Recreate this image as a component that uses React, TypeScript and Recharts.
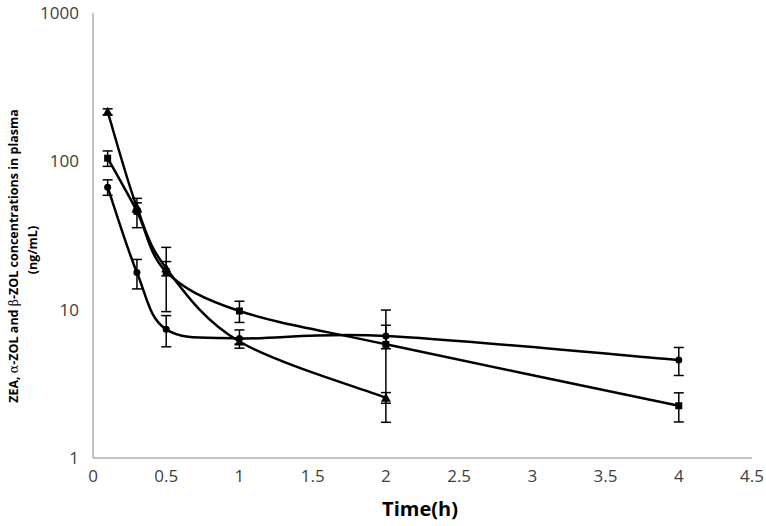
import { ErrorBar, Line, LineChart, XAxis, YAxis } from 'recharts'

// sampling times (h)
const times = [0.1, 0.3, 0.5, 1, 2, 4]

// triangle series
const zea = [216, 49, 19, 6.1, 2.55, null]
const zeaErr = [10, 3.5, 2.1, 0.25, 0.21, null]
// square series
const alphaZol = [105, 46, 18, 9.8, 5.84, 2.25]
const alphaZolErr = [12.5, 10.3, 8.3, 1.6, 4.1, 0.5]
// circle series
const betaZol = [67, 17.8, 7.37, 6.4, 6.65, 4.58]
const betaZolErr = [8, 4, 1.75, 0.9, 1.2, 0.98]

const xTicks = [0, 0.5, 1, 1.5, 2, 2.5, 3, 3.5, 4, 4.5]
const yTicks = [1, 10, 100, 1000]

const data = times.map((t, i) => ({
  t,
  zea: zea[i],
  zeaErr: zeaErr[i],
  alphaZol: alphaZol[i],
  alphaZolErr: alphaZolErr[i],
  betaZol: betaZol[i],
  betaZolErr: betaZolErr[i],
}))

// excel-like smoothed line (catmull-rom through the points)
const smooth = (context: any) => {
  let pts: number[][] = []
  return {
    areaStart() {},
    areaEnd() {},
    lineStart() {
      pts = []
    },
    lineEnd() {
      const n = pts.length
      if (!n) return
      context.moveTo(pts[0][0], pts[0][1])
      for (let i = 0; i < n - 1; i++) {
        const p0 = pts[Math.max(i - 1, 0)]
        const p1 = pts[i]
        const p2 = pts[i + 1]
        const p3 = pts[Math.min(i + 2, n - 1)]
        context.bezierCurveTo(
          p1[0] + (p2[0] - p0[0]) / 6,
          p1[1] + (p2[1] - p0[1]) / 6,
          p2[0] - (p3[0] - p1[0]) / 6,
          p2[1] - (p3[1] - p1[1]) / 6,
          p2[0],
          p2[1]
        )
      }
    },
    point(x: number, y: number) {
      pts.push([+x, +y])
    },
  }
}

const TriangleDot = (props: any) => {
  const { cx, cy, index } = props
  if (cx == null || cy == null) return <g key={`tri-${index}`} />
  return <path key={`tri-${index}`} d={`M${cx},${cy - 5}L${cx + 5},${cy + 4}L${cx - 5},${cy + 4}Z`} fill='#000' />
}

const SquareDot = (props: any) => {
  const { cx, cy, index } = props
  if (cx == null || cy == null) return <g key={`sq-${index}`} />
  return <rect key={`sq-${index}`} x={cx - 3.5} y={cy - 3.5} width={7} height={7} fill='#000' />
}

const CircleDot = (props: any) => {
  const { cx, cy, index } = props
  if (cx == null || cy == null) return <g key={`ci-${index}`} />
  return <circle key={`ci-${index}`} cx={cx} cy={cy} r={3.5} fill='#000' />
}

const font = '"Open Sans", sans-serif'

const YTitle = () => (
  <g fontFamily={font} fontWeight='bold' fontSize={12.5} fill='#000'>
    <text x={13} y={256} textAnchor='middle' dominantBaseline='central' transform='rotate(-90 13 256)'>
      ZEA, <tspan fontFamily='"DejaVu Serif", serif' fontWeight='normal'>α</tspan>-ZOL and{' '}
      <tspan fontFamily='"DejaVu Serif", serif' fontWeight='normal'>β</tspan>-ZOL concentrations in plasma
    </text>
    <text x={32} y={250} textAnchor='middle' dominantBaseline='central' transform='rotate(-90 32 250)'>
      (ng/mL)
    </text>
  </g>
)

const XTitle = () => (
  <text x={420} y={516} textAnchor='middle' fontFamily={font} fontWeight='bold' fontSize={20} fill='#000'>
    Time(h)
  </text>
)

export default function App() {
  return (
    <div style={{ position: 'absolute', left: 0, top: 0, background: '#fff' }}>
      <LineChart width={766} height={526} data={data} margin={{ top: 13, right: 14, bottom: 0, left: 0 }}>
        <XAxis
          dataKey='t'
          type='number'
          domain={[0, 4.5]}
          ticks={xTicks}
          height={68}
          stroke='#898989'
          tickLine={false}
          tickMargin={6}
          tick={{ fill: '#404040', fontSize: 17, fontFamily: font }}
          label={{ content: () => <XTitle /> }}
        />
        <YAxis
          scale='log'
          domain={[1, 1000]}
          ticks={yTicks}
          allowDataOverflow
          width={93}
          stroke='#898989'
          tickLine={false}
          tickMargin={8}
          tick={{ fill: '#404040', fontSize: 17, fontFamily: font }}
          label={{ content: () => <YTitle /> }}
        />
        <Line
          dataKey='zea'
          type={smooth as any}
          stroke='#000'
          strokeWidth={2.5}
          dot={TriangleDot}
          activeDot={false}
          isAnimationActive={false}
        >
          <ErrorBar dataKey='zeaErr' direction='y' width={5} stroke='#000' strokeWidth={1.5} />
        </Line>
        <Line
          dataKey='alphaZol'
          type={smooth as any}
          stroke='#000'
          strokeWidth={2.5}
          dot={SquareDot}
          activeDot={false}
          isAnimationActive={false}
        >
          <ErrorBar dataKey='alphaZolErr' direction='y' width={5} stroke='#000' strokeWidth={1.5} />
        </Line>
        <Line
          dataKey='betaZol'
          type={smooth as any}
          stroke='#000'
          strokeWidth={2.5}
          dot={CircleDot}
          activeDot={false}
          isAnimationActive={false}
        >
          <ErrorBar dataKey='betaZolErr' direction='y' width={5} stroke='#000' strokeWidth={1.5} />
        </Line>
      </LineChart>
    </div>
  )
}
